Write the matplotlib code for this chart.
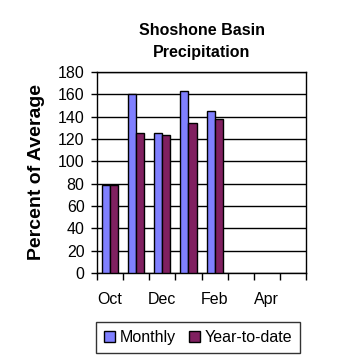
import matplotlib
matplotlib.use("Agg")
import matplotlib.pyplot as plt
import numpy as np

months = ["Oct", "Nov", "Dec", "Jan", "Feb", "Mar", "Apr", "May"]
monthly = [79, 160, 125, 163, 145, np.nan, np.nan, np.nan]
ytd = [79, 125, 124, 134, 138, np.nan, np.nan, np.nan]
tick_labels = ["Oct", "", "Dec", "", "Feb", "", "Apr", ""]

plt.rcParams['font.family'] = ['Liberation Sans', 'DejaVu Sans']

fig = plt.figure(figsize=(3.58, 3.58), dpi=100)
ax = fig.add_axes([0.271, 0.2374, 0.584, 0.5616])

x = np.arange(len(months))
w = 0.31
ax.bar(x - w/2, monthly, w, color="#8080ff", edgecolor="black", linewidth=1, label="Monthly", zorder=3)
ax.bar(x + w/2, ytd, w, color="#802060", edgecolor="black", linewidth=1, label="Year-to-date", zorder=3)

ax.set_xlim(-0.5, len(months) - 0.5)
ax.set_ylim(0, 180)
ax.set_yticks(np.arange(0, 181, 20))
ax.yaxis.grid(True, color="black", linewidth=1)
ax.set_axisbelow(True)

ax.set_xticks(np.arange(-0.5, len(months), 1))
ax.set_xticklabels([])
ax.set_xticks(x, minor=True)
ax.set_xticklabels(tick_labels, minor=True)
ax.tick_params(axis="x", which="major", length=5, width=1, direction="out")
ax.tick_params(axis="x", which="minor", length=0, pad=14, labelsize=11.5)
ax.tick_params(axis="y", length=4, width=1, labelsize=11.5, pad=5)
for s in ax.spines.values():
    s.set_linewidth(1)

ax.set_ylabel("Percent of Average", fontsize=14, fontweight="bold", labelpad=9)
ax.set_title("Shoshone Basin\nPrecipitation", fontsize=11.5, fontweight="bold", pad=11, linespacing=1.55)

leg = fig.legend(loc="center", bbox_to_anchor=(0.553, 0.057), ncol=2, frameon=True,
                 fancybox=False, edgecolor="black", fontsize=11.5, handlelength=0.7,
                 handleheight=0.7, handletextpad=0.3, columnspacing=0.8, borderpad=0.5)
leg.get_frame().set_linewidth(1)

fig.savefig("out.png", dpi=100)
